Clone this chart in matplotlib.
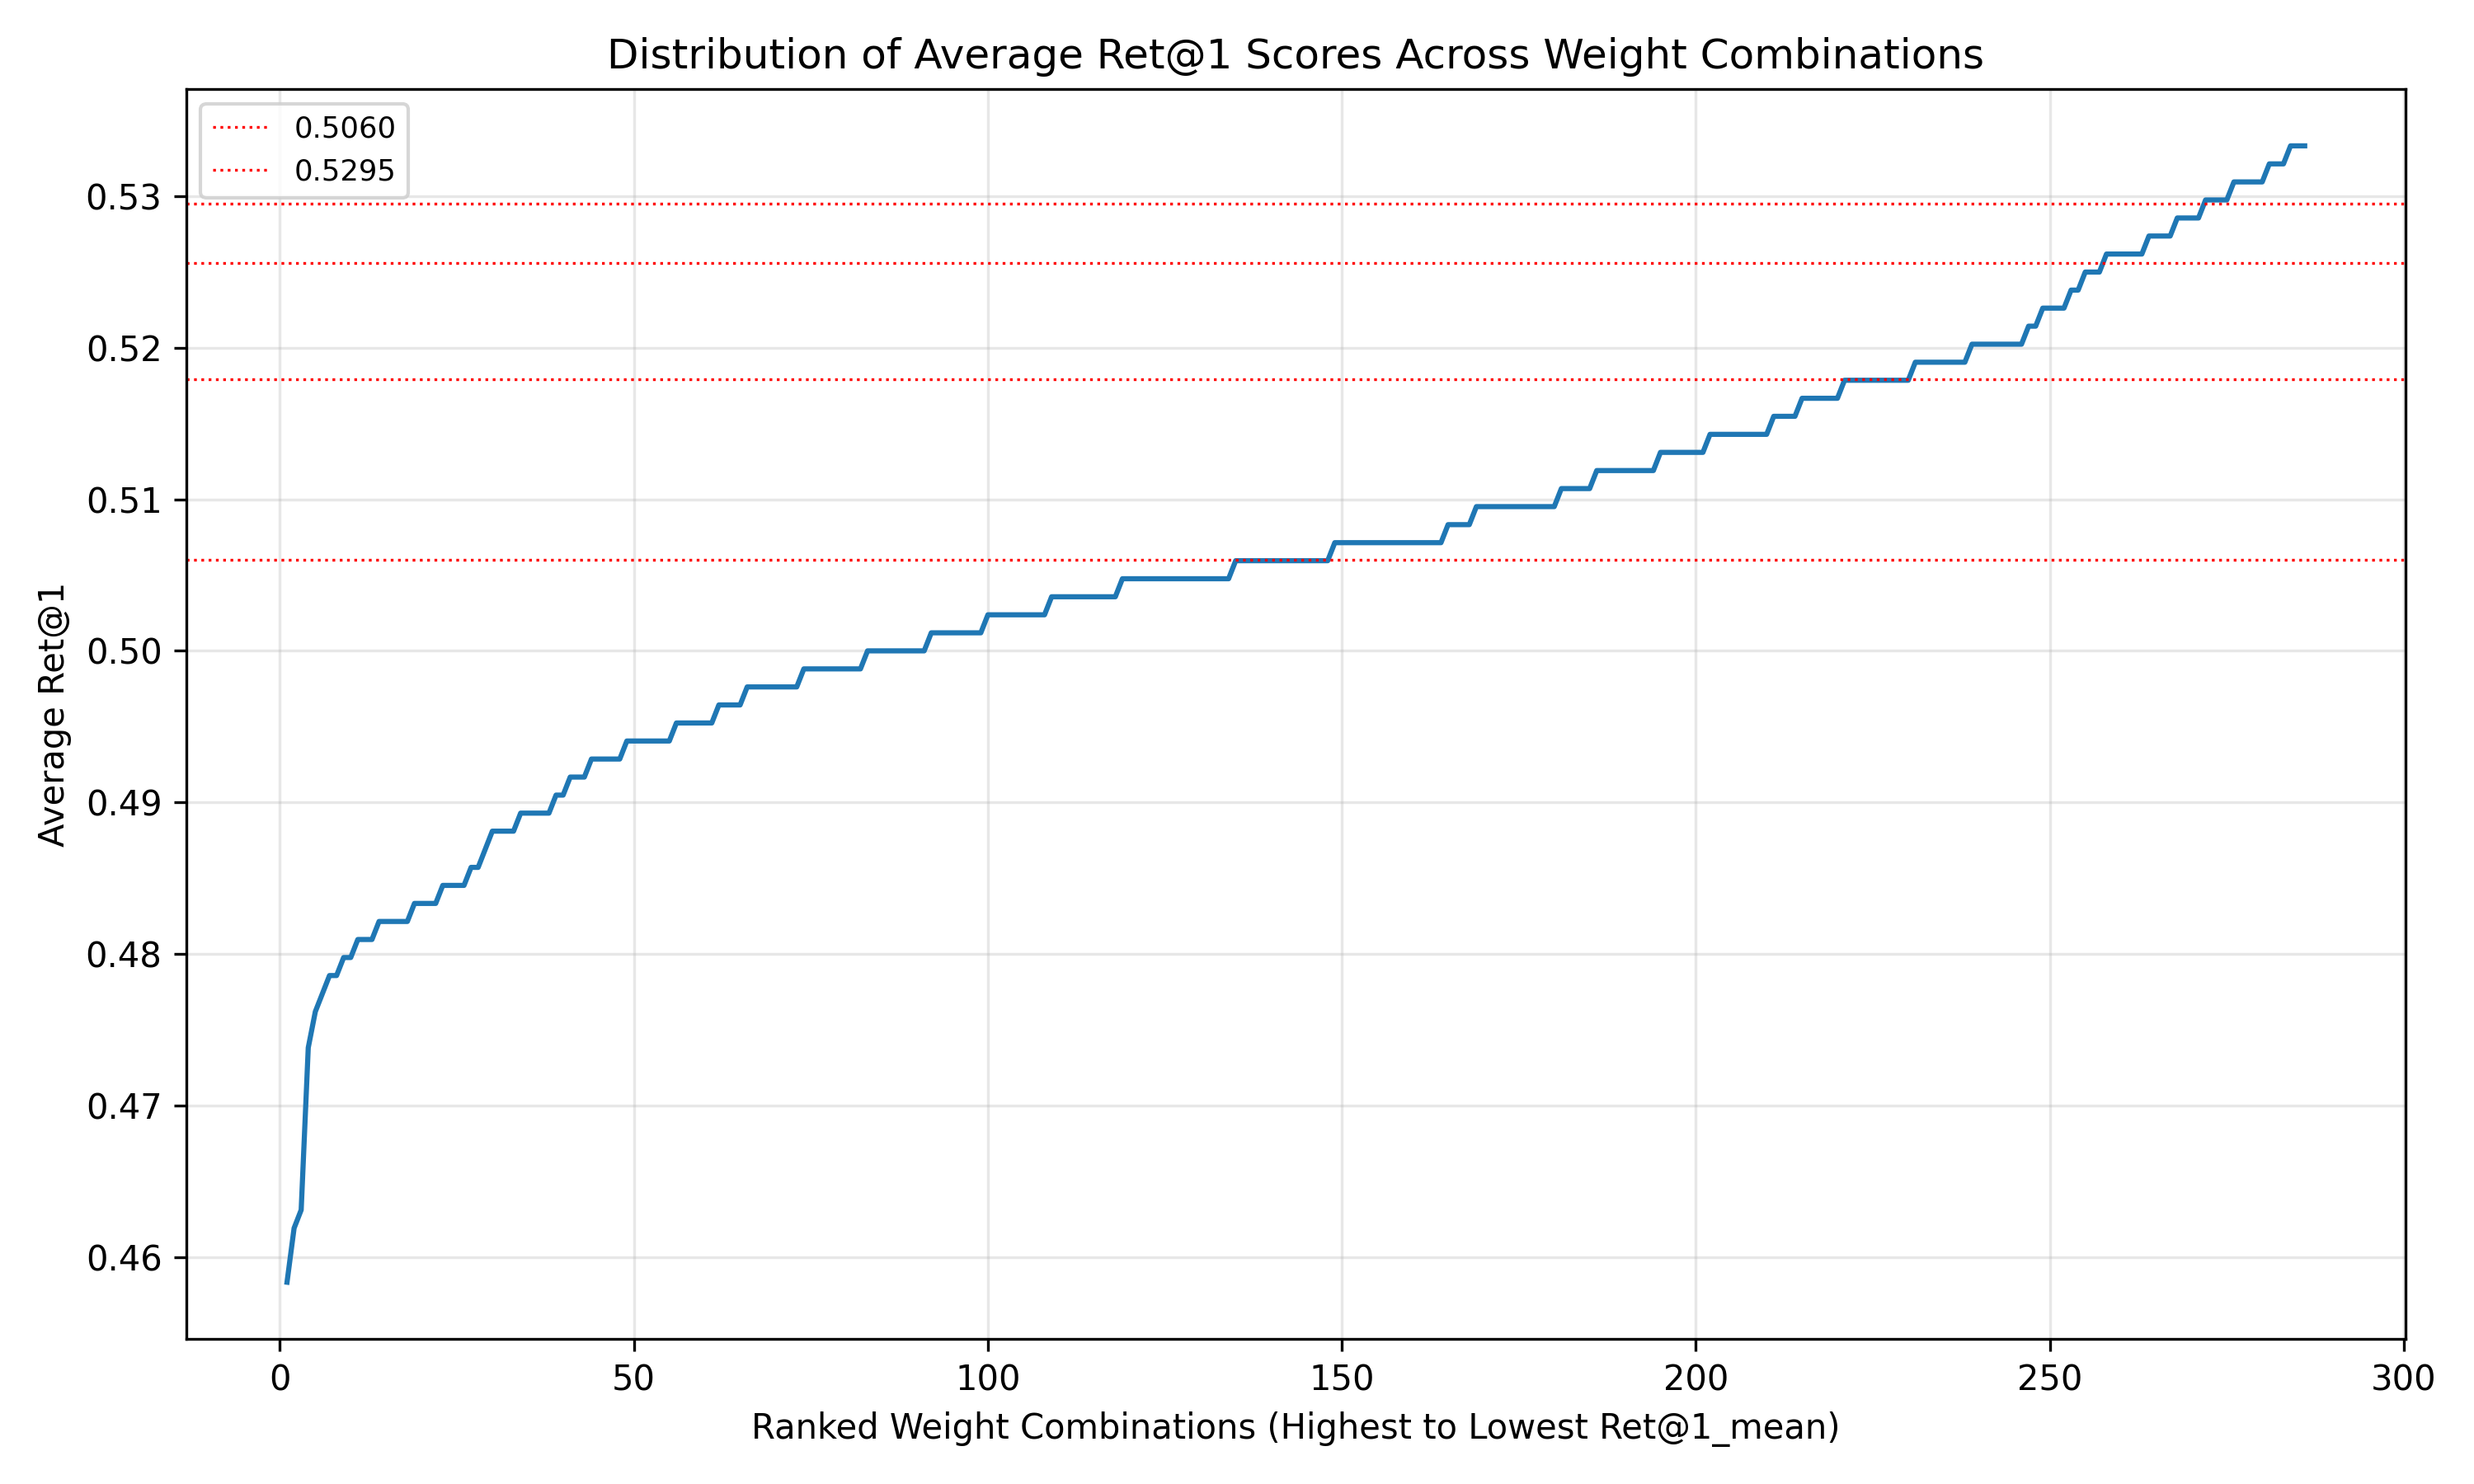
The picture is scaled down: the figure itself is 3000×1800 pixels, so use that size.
import numpy as np
import matplotlib
matplotlib.use("Agg")
import matplotlib.pyplot as plt

# Step levels of the ranked curve (value, number of consecutive ranks at that value)
level_values = [0.45833, 0.46190, 0.46310, 0.47381, 0.47619, 0.47738, 0.47857, 0.47976,
                0.48095, 0.48214, 0.48333, 0.48452, 0.48571, 0.48690, 0.48810, 0.48929,
                0.49048, 0.49167, 0.49286, 0.49405, 0.49524, 0.49643, 0.49762, 0.49881,
                0.50000, 0.50119, 0.50238, 0.50357, 0.50476, 0.50595, 0.50714, 0.50833,
                0.50952, 0.51071, 0.51190, 0.51310, 0.51429, 0.51548, 0.51667, 0.51786,
                0.51905, 0.52024, 0.52143, 0.52262, 0.52381, 0.52500, 0.52619, 0.52738,
                0.52857, 0.52976, 0.53095, 0.53214, 0.53333]
level_counts = [1, 1, 1, 1, 1, 1, 2, 2,
                3, 5, 4, 4, 2, 1, 4, 5,
                2, 3, 5, 7, 6, 4, 8, 9,
                9, 8, 9, 10, 16, 14, 16, 4,
                12, 5, 9, 7, 9, 4, 6, 10,
                8, 8, 2, 4, 2, 3, 6, 4,
                4, 4, 5, 3, 3]

scores = np.repeat(level_values, level_counts)
ranks = np.arange(1, len(scores) + 1)

# Reference lines
hline_values = [0.5060, 0.5179, 0.5256, 0.5295]
hline_labels = ["0.5060", "_nolegend_", "_nolegend_", "0.5295"]

fig, ax = plt.subplots(figsize=(10, 6), dpi=300)
ax.plot(ranks, scores, color="#1f77b4", linewidth=1.5)
for v, lab in zip(hline_values, hline_labels):
    ax.axhline(v, color="red", linestyle=":", linewidth=0.8, label=lab)

ax.set_title("Distribution of Average Ret@1 Scores Across Weight Combinations")
ax.set_xlabel("Ranked Weight Combinations (Highest to Lowest Ret@1_mean)")
ax.set_ylabel("Average Ret@1")
ax.grid(True, alpha=0.3)
ax.legend(loc="upper left", fontsize=8.5)
fig.tight_layout()
fig.savefig("out.png", dpi=300)
